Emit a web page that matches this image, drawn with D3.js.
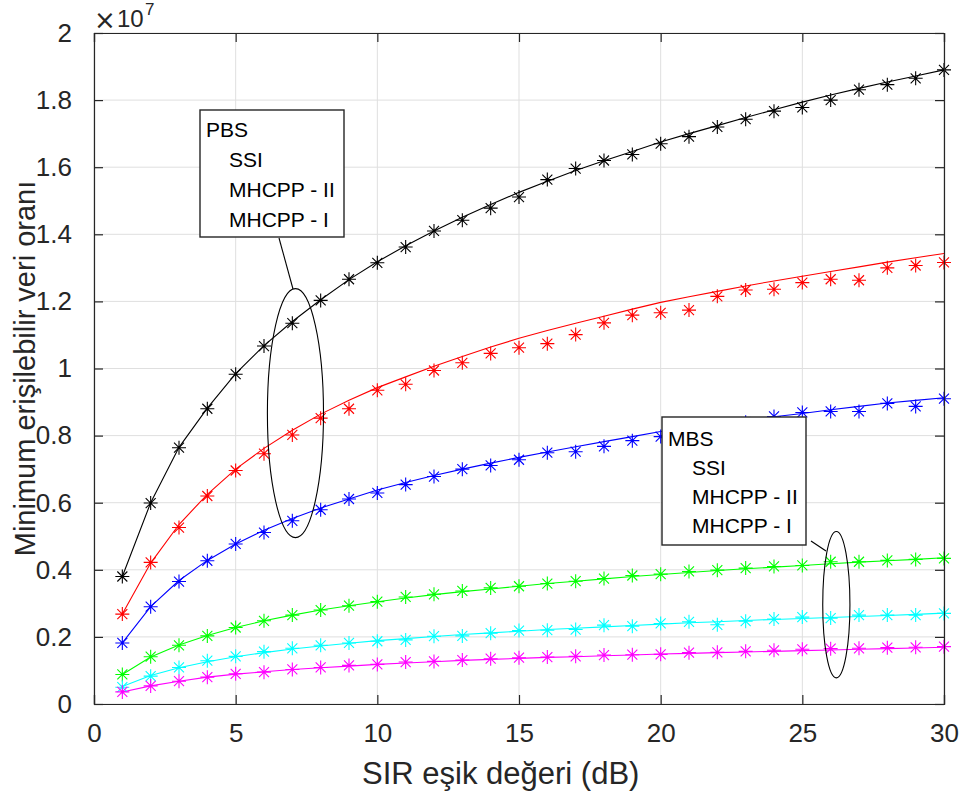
<!DOCTYPE html>
<html>
<head>
<meta charset="utf-8">
<script src="https://cdn.jsdelivr.net/npm/d3@7"></script>
<style>
  html, body { margin: 0; padding: 0; background: #fff; }
  svg { display: block; font-family: "Liberation Sans", Arial, Helvetica, sans-serif; }
</style>
</head>
<body>
<svg id="chart" width="960" height="796"></svg>
<script>
// ---------- data (values in units of 1e7) ----------
const sir = [1,2,3,4,5,6,7,8,9,10,11,12,13,14,15,16,17,18,19,20,21,22,23,24,25,26,27,28,29,30];

// simulation markers
const pbsSSI_sim   = [0.380,0.599,0.764,0.880,0.983,1.067,1.135,1.203,1.266,1.315,1.362,1.410,1.442,1.478,1.511,1.563,1.596,1.620,1.638,1.670,1.691,1.720,1.743,1.767,1.778,1.800,1.831,1.846,1.865,1.890];
const pbsII_sim    = [0.268,0.422,0.526,0.620,0.696,0.746,0.802,0.852,0.880,0.935,0.953,0.994,1.017,1.045,1.062,1.074,1.101,1.136,1.159,1.166,1.174,1.215,1.234,1.236,1.256,1.266,1.263,1.300,1.307,1.316];
const pbsI_sim     = [0.182,0.290,0.365,0.427,0.477,0.511,0.546,0.579,0.611,0.629,0.654,0.678,0.700,0.711,0.728,0.749,0.752,0.768,0.785,0.797,0.810,0.825,0.840,0.857,0.869,0.872,0.872,0.896,0.887,0.910];
const mbsSSI_sim   = [0.088,0.141,0.175,0.203,0.228,0.248,0.265,0.280,0.293,0.305,0.319,0.327,0.337,0.346,0.351,0.359,0.366,0.374,0.383,0.387,0.395,0.399,0.405,0.410,0.413,0.424,0.424,0.428,0.431,0.434];
const mbsII_sim    = [0.050,0.083,0.109,0.129,0.142,0.156,0.166,0.175,0.182,0.187,0.191,0.202,0.203,0.211,0.219,0.220,0.222,0.235,0.232,0.240,0.245,0.236,0.247,0.253,0.259,0.256,0.265,0.265,0.265,0.270];
const mbsI_sim     = [0.036,0.054,0.068,0.080,0.090,0.095,0.103,0.109,0.115,0.118,0.125,0.127,0.131,0.135,0.138,0.140,0.142,0.146,0.147,0.148,0.153,0.154,0.157,0.160,0.163,0.165,0.166,0.168,0.169,0.171];

// analytical curves
const pbsSSI_ana   = [0.380,0.600,0.765,0.882,0.985,1.068,1.140,1.205,1.265,1.318,1.366,1.410,1.451,1.489,1.525,1.558,1.590,1.619,1.647,1.675,1.700,1.724,1.748,1.771,1.794,1.815,1.835,1.854,1.872,1.890];
const pbsII_ana    = [0.268,0.420,0.535,0.625,0.700,0.762,0.816,0.864,0.905,0.943,0.975,1.007,1.036,1.064,1.090,1.113,1.135,1.156,1.177,1.197,1.214,1.230,1.246,1.261,1.275,1.289,1.303,1.317,1.330,1.343];
const pbsI_ana     = [0.182,0.290,0.368,0.428,0.477,0.518,0.553,0.584,0.611,0.638,0.660,0.681,0.700,0.718,0.735,0.751,0.767,0.782,0.797,0.812,0.824,0.835,0.846,0.856,0.866,0.877,0.887,0.897,0.905,0.913];
const mbsSSI_ana   = [0.088,0.140,0.176,0.204,0.228,0.248,0.265,0.280,0.293,0.305,0.316,0.326,0.335,0.343,0.351,0.359,0.366,0.373,0.380,0.386,0.392,0.398,0.403,0.408,0.413,0.418,0.423,0.427,0.431,0.436];
const mbsII_ana    = [0.052,0.085,0.108,0.126,0.141,0.153,0.164,0.173,0.181,0.189,0.195,0.201,0.207,0.212,0.217,0.222,0.226,0.230,0.234,0.238,0.242,0.245,0.249,0.252,0.255,0.258,0.261,0.264,0.267,0.271];
const mbsI_ana     = [0.036,0.054,0.068,0.080,0.089,0.096,0.103,0.108,0.113,0.118,0.122,0.126,0.130,0.133,0.136,0.139,0.141,0.144,0.146,0.149,0.151,0.153,0.155,0.157,0.159,0.161,0.163,0.165,0.167,0.169];

const seriesColors = ["#000000","#ff0000","#0000ff","#00ff00","#00ffff","#ff00ff"];
const xTicks = [0,5,10,15,20,25,30];
const yTicks = [0,0.2,0.4,0.6,0.8,1,1.2,1.4,1.6,1.8,2];
const yTickLabels = ["0","0.2","0.4","0.6","0.8","1","1.2","1.4","1.6","1.8","2"];
const xLabel = "SIR eşik değeri (dB)";
const yLabel = "Minimum erişilebilir veri oranı";
const pbsLegend = ["PBS","SSI","MHCPP - II","MHCPP - I"];
const mbsLegend = ["MBS","SSI","MHCPP - II","MHCPP - I"];

// ---------- layout ----------
const svg = d3.select("#chart");
const L = 94, R = 944, T = 33, B = 704;
const x = d3.scaleLinear().domain([0,30]).range([L,R]);
const y = d3.scaleLinear().domain([0,2]).range([B,T]);
const axisColor = "#262626";
const gridColor = "#dfdfdf";
const FONT = '"Liberation Sans", Arial, sans-serif';

// grid
const g = svg.append("g");
g.selectAll(".gx").data(xTicks).enter().append("line")
  .attr("x1", d=>x(d)).attr("x2", d=>x(d)).attr("y1", T).attr("y2", B)
  .attr("stroke", gridColor).attr("stroke-width", 1);
g.selectAll(".gy").data(yTicks).enter().append("line")
  .attr("x1", L).attr("x2", R).attr("y1", d=>y(d)).attr("y2", d=>y(d))
  .attr("stroke", gridColor).attr("stroke-width", 1);

// series
const sims = [pbsSSI_sim,pbsII_sim,pbsI_sim,mbsSSI_sim,mbsII_sim,mbsI_sim];
const anas = [pbsSSI_ana,pbsII_ana,pbsI_ana,mbsSSI_ana,mbsII_ana,mbsI_ana];
const line = d3.line().x((d,i)=>x(sir[i])).y(d=>y(d));
const plotG = svg.append("g");
anas.forEach((arr, k) => {
  plotG.append("path").attr("d", line(arr)).attr("fill","none")
    .attr("stroke", seriesColors[k]).attr("stroke-width", 1.1);
});
const star = "M-7,0L7,0M0,-7L0,7M-5,-5L5,5M-5,5L5,-5";
sims.forEach((arr, k) => {
  plotG.append("g").selectAll("path").data(arr).enter().append("path")
    .attr("transform", (d,i)=>`translate(${x(sir[i])},${y(d)})`)
    .attr("d", star).attr("fill","none")
    .attr("stroke", seriesColors[k]).attr("stroke-width", 1.1);
});

// axes box + ticks (inward, all four sides)
const ax = svg.append("g");
const xAxisB = d3.axisBottom(x).tickValues(xTicks).tickSize(-9).tickPadding(20).tickFormat(d3.format("d"));
const xAxisT = d3.axisTop(x).tickValues(xTicks).tickSize(-9).tickFormat("");
const yAxisL = d3.axisLeft(y).tickValues(yTicks).tickSize(-9).tickPadding(22).tickFormat((d,i)=>yTickLabels[i]);
const yAxisR = d3.axisRight(y).tickValues(yTicks).tickSize(-9).tickFormat("");
ax.append("g").attr("transform",`translate(0,${B})`).call(xAxisB);
ax.append("g").attr("transform",`translate(0,${T})`).call(xAxisT);
ax.append("g").attr("transform",`translate(${L},0)`).call(yAxisL);
ax.append("g").attr("transform",`translate(${R},0)`).call(yAxisR);
ax.selectAll(".domain").attr("stroke", axisColor).attr("stroke-width", 1.2);
ax.selectAll(".tick line").attr("stroke", axisColor).attr("stroke-width", 1.2);
ax.selectAll(".tick text").attr("fill", axisColor).attr("font-size", 26).attr("font-family", FONT);

// exponent
svg.append("text").attr("x", 94).attr("y", 29).attr("fill", axisColor)
  .attr("font-family", '"DejaVu Sans", sans-serif').attr("font-size", 26).text("×");
svg.append("text").attr("x", 117).attr("y", 27).attr("fill", axisColor)
  .attr("font-family", FONT).attr("font-size", 24).text("10");
svg.append("text").attr("x", 145).attr("y", 15).attr("fill", axisColor)
  .attr("font-family", FONT).attr("font-size", 17).text("7");

// axis labels
svg.append("text").attr("x", 362).attr("y", 784).attr("text-anchor","start")
  .attr("font-size", 31).attr("fill", axisColor).text(xLabel);
svg.append("text").attr("transform", `translate(35,${(T+B)/2}) rotate(-90)`)
  .attr("text-anchor","middle").attr("font-size", 29).attr("fill", axisColor).text(yLabel);

// annotations
function legendBox(x0, y0, w, h, lines, indentX, firstBase, step) {
  const gg = svg.append("g");
  gg.append("rect").attr("x", x0).attr("y", y0).attr("width", w).attr("height", h)
    .attr("fill", "#fff").attr("stroke", axisColor).attr("stroke-width", 1.4);
  lines.forEach((t, i) => {
    gg.append("text").attr("x", i === 0 ? x0 + 6 : x0 + indentX)
      .attr("y", firstBase + i * step).attr("font-size", 21).attr("fill", "#000").text(t);
  });
}
legendBox(200, 110, 144, 127, pbsLegend, 29, 137, 30);
legendBox(662, 417, 144, 128, mbsLegend, 30, 446, 29);

// pointer lines and ellipses (placed in data coordinates)
svg.append("line").attr("x1", 279).attr("y1", 238).attr("x2", 293).attr("y2", 289)
  .attr("stroke", "#000").attr("stroke-width", 1.1);
svg.append("ellipse").attr("cx", x(7.11)).attr("cy", y(0.867))
  .attr("rx", x(0.99) - x(0)).attr("ry", y(0) - y(0.371))
  .attr("fill", "none").attr("stroke", "#000").attr("stroke-width", 1.1);
svg.append("line").attr("x1", 811).attr("y1", 541).attr("x2", 826).attr("y2", 551)
  .attr("stroke", "#000").attr("stroke-width", 1.1);
svg.append("ellipse").attr("cx", x(26.2)).attr("cy", y(0.296))
  .attr("rx", x(0.48) - x(0)).attr("ry", y(0) - y(0.218))
  .attr("fill", "none").attr("stroke", "#000").attr("stroke-width", 1.1);
</script>
</body>
</html>
